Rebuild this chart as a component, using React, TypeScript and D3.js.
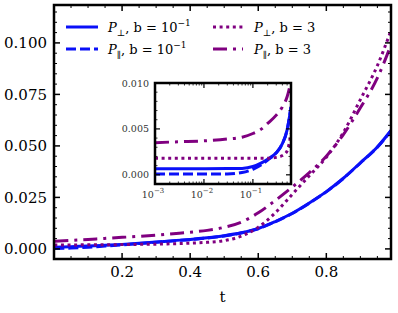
import * as d3 from 'd3'

// main panel data (t on linear axis)
const tMain = [0.001, 0.05, 0.1, 0.15, 0.2, 0.25, 0.3, 0.35, 0.4, 0.45, 0.5, 0.55, 0.6, 0.65, 0.7, 0.75, 0.8, 0.85, 0.9, 0.95, 0.99]
const perpSmallMain = [0.0008, 0.0011, 0.0014, 0.0018, 0.0022, 0.0027, 0.0033, 0.004, 0.0046, 0.0054, 0.0064, 0.0078, 0.0099, 0.0133, 0.0173, 0.0223, 0.0278, 0.0343, 0.0418, 0.0495, 0.0575]
const parSmallMain = [0.0002, 0.0004, 0.0008, 0.0014, 0.002, 0.0026, 0.0032, 0.0039, 0.0045, 0.0053, 0.0063, 0.0077, 0.0098, 0.0132, 0.0172, 0.0222, 0.0277, 0.0342, 0.0417, 0.0494, 0.0574]
const perpBigMain = [0.0019, 0.0019, 0.002, 0.002, 0.0021, 0.0022, 0.0023, 0.0025, 0.0028, 0.0032, 0.004, 0.0062, 0.0105, 0.0175, 0.0265, 0.0355, 0.0445, 0.0565, 0.0725, 0.089, 0.106]
const parBigMain = [0.0037, 0.0041, 0.0046, 0.0051, 0.0056, 0.0061, 0.0067, 0.0074, 0.0081, 0.009, 0.0105, 0.013, 0.0175, 0.0235, 0.03, 0.037, 0.045, 0.0555, 0.0685, 0.083, 0.099]

// inset data (t on log axis)
const tInset = [0.001, 0.003, 0.01, 0.03, 0.06, 0.1, 0.15, 0.2, 0.3, 0.4, 0.5, 0.6]
const perpSmallInset = [0.00065, 0.00065, 0.00066, 0.00068, 0.0007, 0.0009, 0.0013, 0.0017, 0.0024, 0.0034, 0.0049, 0.0074]
const parSmallInset = [0.0001, 0.0001, 0.0001, 0.0001, 0.00025, 0.0006, 0.0011, 0.0016, 0.0024, 0.0034, 0.0049, 0.0074]
const perpBigInset = [0.0018, 0.0018, 0.0018, 0.0018, 0.0018, 0.0018, 0.0018, 0.0018, 0.0019, 0.0021, 0.0026, 0.0045]
const parBigInset = [0.0035, 0.0036, 0.0037, 0.0039, 0.0041, 0.0045, 0.005, 0.0056, 0.0065, 0.0074, 0.0085, 0.0102]

const xTicksMain = [0.2, 0.4, 0.6, 0.8]
const yTicksMain = [0, 0.025, 0.05, 0.075, 0.1]
const xTicksInset = [0.001, 0.01, 0.1]
const xTickExpInset = ['−3', '−2', '−1']
const yTicksInset = [0, 0.005, 0.01]

const BLUE = '#0a10f8'
const PURPLE = '#800080'
const FONT = "'DejaVu Serif', 'Liberation Serif', serif"

const seriesStyle = [
  { color: BLUE, dash: 'none', sub: '⊥', b: 'small' },
  { color: BLUE, dash: '10 4', sub: '∥', b: 'small' },
  { color: PURPLE, dash: '3 3.6', sub: '⊥', b: 'big' },
  { color: PURPLE, dash: '14 6 3 6', sub: '∥', b: 'big' },
]

export default function App() {
  const W = 398
  const H = 313
  const m = { l: 54, r: 391, t: 5, b: 259 }
  const x = d3.scaleLinear().domain([0, 0.99]).range([m.l, m.r])
  const y = d3.scaleLinear().domain([-0.0049, 0.1184]).range([m.b, m.t])

  const ins = { l: 155, r: 291, t: 83, b: 184 }
  const xi = d3.scaleLog().domain([0.001, 0.6]).range([ins.l, ins.r])
  const yi = d3.scaleLinear().domain([-0.001, 0.01]).range([ins.b, ins.t])

  const mainSeries = [perpSmallMain, parSmallMain, perpBigMain, parBigMain]
  const insetSeries = [perpSmallInset, parSmallInset, perpBigInset, parBigInset]

  const lineMain = d3
    .line<number>()
    .x((_, i) => x(tMain[i]))
    .y((d) => y(d))
    .curve(d3.curveMonotoneX)
  const lineInset = d3
    .line<number>()
    .x((_, i) => xi(tInset[i]))
    .y((d) => yi(d))
    .curve(d3.curveMonotoneX)

  const xMinor = d3.range(1, 20).map((i) => i * 0.05).filter((v) => !xTicksMain.some((t) => Math.abs(t - v) < 1e-9))
  const yMinor = d3.range(1, 24).map((i) => i * 0.005).filter((v) => !yTicksMain.some((t) => Math.abs(t - v) < 1e-9))
  const xiMinor: number[] = []
  ;[0.001, 0.01, 0.1].forEach((d) => {
    for (let k = 2; k <= 9; k++) if (d * k <= 0.6) xiMinor.push(d * k)
  })
  const yiMinor = d3.range(-1, 11).map((i) => i * 0.001).filter((v) => !yTicksInset.some((t) => Math.abs(t - v) < 1e-9))

  const legend = [
    { x0: 66, x1: 98, tx: 108, y: 27, s: 0 },
    { x0: 66, x1: 98, tx: 108, y: 49, s: 1 },
    { x0: 213, x1: 243, tx: 254, y: 27, s: 2 },
    { x0: 213, x1: 243, tx: 254, y: 49, s: 3 },
  ]

  return (
    <svg width={W} height={H} style={{ position: 'absolute', left: 0, top: 0, background: '#fff' }} fontFamily={FONT}>
      <defs>
        <clipPath id="clipMain">
          <rect x={m.l} y={m.t} width={m.r - m.l} height={m.b - m.t} />
        </clipPath>
        <clipPath id="clipInset">
          <rect x={ins.l} y={ins.t} width={ins.r - ins.l} height={ins.b - ins.t} />
        </clipPath>
      </defs>

      {/* main curves */}
      <g clipPath="url(#clipMain)">
        {mainSeries.map((s, i) => (
          <path key={i} d={lineMain(s) || ''} fill="none" stroke={seriesStyle[i].color} strokeWidth={3} strokeDasharray={seriesStyle[i].dash} />
        ))}
      </g>

      {/* main ticks */}
      <g stroke="#000">
        {xTicksMain.map((v) => (
          <g key={'xm' + v}>
            <line x1={x(v)} x2={x(v)} y1={m.b} y2={m.b - 6} strokeWidth={1.5} />
            <line x1={x(v)} x2={x(v)} y1={m.t} y2={m.t + 6} strokeWidth={1.5} />
          </g>
        ))}
        {xMinor.map((v) => (
          <g key={'xn' + v}>
            <line x1={x(v)} x2={x(v)} y1={m.b} y2={m.b - 3} strokeWidth={1} />
            <line x1={x(v)} x2={x(v)} y1={m.t} y2={m.t + 3} strokeWidth={1} />
          </g>
        ))}
        {yTicksMain.map((v) => (
          <g key={'ym' + v}>
            <line x1={m.l} x2={m.l + 6} y1={y(v)} y2={y(v)} strokeWidth={1.5} />
            <line x1={m.r} x2={m.r - 6} y1={y(v)} y2={y(v)} strokeWidth={1.5} />
          </g>
        ))}
        {yMinor.map((v) => (
          <g key={'yn' + v}>
            <line x1={m.l} x2={m.l + 3} y1={y(v)} y2={y(v)} strokeWidth={1} />
            <line x1={m.r} x2={m.r - 3} y1={y(v)} y2={y(v)} strokeWidth={1} />
          </g>
        ))}
      </g>
      <rect x={m.l} y={m.t} width={m.r - m.l} height={m.b - m.t} fill="none" stroke="#000" strokeWidth={2.5} />

      {/* main tick labels */}
      <g fontSize={15} fill="#000">
        {xTicksMain.map((v) => (
          <text key={'xl' + v} x={x(v)} y={277} textAnchor="middle">
            {d3.format('.1f')(v)}
          </text>
        ))}
        {yTicksMain.map((v) => (
          <text key={'yl' + v} x={47} y={y(v) + 5.5} textAnchor="end">
            {d3.format('.3f')(v)}
          </text>
        ))}
        <text x={(m.l + m.r) / 2} y={302} textAnchor="middle">t</text>
      </g>

      {/* legend */}
      <g fontSize={13}>
        {legend.map((l) => {
          const st = seriesStyle[l.s]
          return (
            <g key={l.s}>
              <line x1={l.x0} x2={l.x1} y1={l.y} y2={l.y} stroke={st.color} strokeWidth={3} strokeDasharray={st.dash} />
              <text x={l.tx} y={l.y + 5}>
                <tspan fontStyle="italic">P</tspan>
                <tspan fontSize={9} dy={4}>{st.sub}</tspan>
                <tspan dy={-4}>, b = {st.b === 'small' ? '10' : '3'}</tspan>
                {st.b === 'small' && (
                  <tspan fontSize={9} dy={-6}>−1</tspan>
                )}
              </text>
            </g>
          )
        })}
      </g>

      {/* inset */}
      <rect x={ins.l} y={ins.t} width={ins.r - ins.l} height={ins.b - ins.t} fill="#fff" />
      <g clipPath="url(#clipInset)">
        {insetSeries.map((s, i) => (
          <path key={i} d={lineInset(s) || ''} fill="none" stroke={seriesStyle[i].color} strokeWidth={3} strokeDasharray={seriesStyle[i].dash} />
        ))}
      </g>
      <g stroke="#000">
        {xTicksInset.map((v) => (
          <g key={'xim' + v}>
            <line x1={xi(v)} x2={xi(v)} y1={ins.b} y2={ins.b - 5} strokeWidth={1.2} />
            <line x1={xi(v)} x2={xi(v)} y1={ins.t} y2={ins.t + 5} strokeWidth={1.2} />
          </g>
        ))}
        {xiMinor.map((v) => (
          <g key={'xin' + v}>
            <line x1={xi(v)} x2={xi(v)} y1={ins.b} y2={ins.b - 2.5} strokeWidth={0.8} />
            <line x1={xi(v)} x2={xi(v)} y1={ins.t} y2={ins.t + 2.5} strokeWidth={0.8} />
          </g>
        ))}
        {yTicksInset.map((v) => (
          <g key={'yim' + v}>
            <line x1={ins.l} x2={ins.l + 5} y1={yi(v)} y2={yi(v)} strokeWidth={1.2} />
            <line x1={ins.r} x2={ins.r - 5} y1={yi(v)} y2={yi(v)} strokeWidth={1.2} />
          </g>
        ))}
        {yiMinor.map((v) => (
          <g key={'yin' + v}>
            <line x1={ins.l} x2={ins.l + 2.5} y1={yi(v)} y2={yi(v)} strokeWidth={0.8} />
            <line x1={ins.r} x2={ins.r - 2.5} y1={yi(v)} y2={yi(v)} strokeWidth={0.8} />
          </g>
        ))}
      </g>
      <rect x={ins.l} y={ins.t} width={ins.r - ins.l} height={ins.b - ins.t} fill="none" stroke="#000" strokeWidth={2.5} />
      <g fontSize={9.5} fill="#333">
        {yTicksInset.map((v) => (
          <text key={'yil' + v} x={149} y={yi(v) + 3.5} textAnchor="end">
            {d3.format('.3f')(v)}
          </text>
        ))}
        {xTicksInset.map((v, i) => (
          <text key={'xil' + v} x={xi(v) - 2} y={198} textAnchor="middle">
            10<tspan fontSize={7} dy={-5}>{xTickExpInset[i]}</tspan>
          </text>
        ))}
      </g>
    </svg>
  )
}
